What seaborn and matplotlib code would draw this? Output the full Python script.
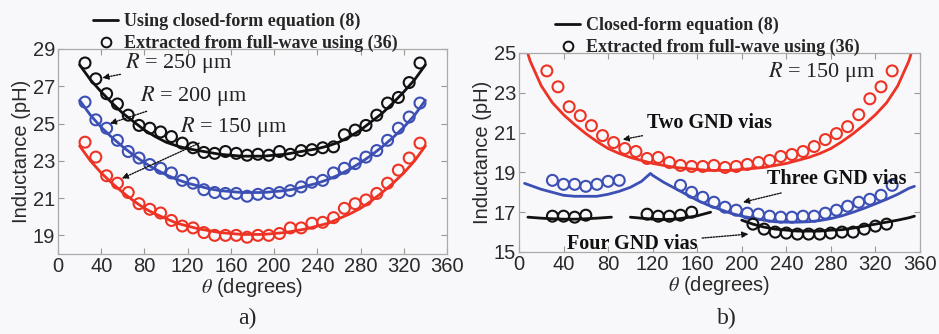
import numpy as np
import pandas as pd
import matplotlib
matplotlib.use("Agg")
import matplotlib.pyplot as plt
from matplotlib.lines import Line2D
import seaborn as sns

# ---- data: panel a) (three via radii) ----
theta_a_line = [20, 30, 40, 50, 60, 70, 80, 90, 100, 110, 120, 130, 140, 150, 160, 170, 180,
                190, 200, 210, 220, 230, 240, 250, 260, 270, 280, 290, 300, 310, 320, 330, 340]
theta_a_pts = [25, 35, 45, 55, 65, 75, 85, 95, 105, 115, 125, 135, 145, 155, 165, 175,
               185, 195, 205, 215, 225, 235, 245, 255, 265, 275, 285, 295, 305, 315, 325, 335]

a_line_250 = [28.15, 27.35, 26.7, 26.1, 25.55, 25.1, 24.65, 24.3, 24.0, 23.8, 23.65, 23.55, 23.45,
              23.35, 23.3, 23.25, 23.25, 23.25, 23.3, 23.35, 23.45, 23.55, 23.65, 23.8, 24.0,
              24.3, 24.65, 25.1, 25.55, 26.1, 26.7, 27.35, 28.15]
a_line_200 = [26.25, 25.45, 24.8, 24.25, 23.75, 23.3, 22.9, 22.55, 22.25, 22.0, 21.8, 21.65, 21.5,
              21.4, 21.35, 21.3, 21.3, 21.3, 21.35, 21.4, 21.5, 21.65, 21.8, 22.0, 22.25,
              22.55, 22.9, 23.3, 23.75, 24.25, 24.8, 25.45, 26.25]
a_line_150 = [23.8, 23.0, 22.35, 21.8, 21.3, 20.85, 20.45, 20.15, 19.9, 19.65, 19.5, 19.35, 19.25,
              19.15, 19.1, 19.05, 19.05, 19.05, 19.1, 19.15, 19.25, 19.35, 19.5, 19.65, 19.9,
              20.15, 20.45, 20.85, 21.3, 21.8, 22.35, 23.0, 23.8]

a_pts_250 = [28.25, 27.4, 26.6, 26.05, 25.45, 24.9, 24.75, 24.55, 24.3, 23.95, 23.7, 23.45, 23.4,
             23.5, 23.4, 23.3, 23.35, 23.3, 23.5, 23.35, 23.55, 23.6, 23.7, 23.75, 24.4, 24.65,
             24.9, 25.45, 26.1, 26.4, 27.2, 28.25]
a_pts_200 = [26.15, 25.2, 24.75, 24.1, 23.5, 23.15, 22.8, 22.6, 22.35, 21.95, 21.8, 21.45, 21.3,
             21.25, 21.25, 21.1, 21.2, 21.25, 21.3, 21.4, 21.6, 21.85, 21.95, 22.35, 22.6, 22.85,
             23.2, 23.55, 24.1, 24.75, 25.35, 26.1]
a_pts_150 = [24.0, 23.2, 22.2, 21.8, 21.3, 20.7, 20.4, 20.2, 19.8, 19.5, 19.4, 19.15, 19.0, 19.0,
             19.0, 18.9, 19.0, 19.0, 19.1, 19.4, 19.4, 19.65, 19.7, 19.95, 20.45, 20.7, 20.9,
             21.25, 21.8, 22.5, 23.15, 23.95]

# ---- data: panel b) (number of GND vias, R = 150 um) ----
theta_b_two_line = [5, 10, 20, 30, 40, 50, 60, 70, 80, 90, 100, 110, 120, 130, 140, 150, 160, 170,
                    180, 190, 200, 210, 220, 230, 240, 250, 260, 270, 280, 290, 300, 310, 320,
                    330, 340, 350, 355]
b_two_line = [25.5, 24.6, 23.35, 22.5, 21.9, 21.4, 20.95, 20.55, 20.2, 19.95, 19.75, 19.6, 19.45,
              19.35, 19.25, 19.2, 19.15, 19.1, 19.1, 19.1, 19.15, 19.2, 19.25, 19.35, 19.45,
              19.6, 19.75, 19.95, 20.2, 20.55, 20.95, 21.4, 21.9, 22.5, 23.35, 24.6, 25.5]
b_two_pts = [24.1, 23.3, 22.3, 21.85, 21.35, 20.85, 20.5, 20.2, 20.05, 19.7, 19.75, 19.5, 19.35,
             19.3, 19.3, 19.35, 19.25, 19.3, 19.4, 19.5, 19.6, 19.8, 19.9, 20.05, 20.3, 20.65,
             20.95, 21.3, 21.9, 22.7, 23.3, 24.1]

theta_b_three_line = [5, 10, 20, 30, 40, 50, 60, 70, 80, 90, 100, 110, 118, 120, 130, 140, 150,
                      160, 170, 180, 190, 200, 210, 220, 230, 240, 250, 260, 270, 280, 290, 300,
                      310, 320, 330, 340, 350, 355]
b_three_line = [18.45, 18.35, 18.15, 18.0, 17.85, 17.8, 17.8, 17.8, 17.9, 18.05, 18.25, 18.55,
                18.95, 18.85, 18.5, 18.2, 17.9, 17.6, 17.35, 17.15, 16.95, 16.8, 16.7, 16.6,
                16.52, 16.5, 16.5, 16.52, 16.58, 16.68, 16.82, 17.0, 17.2, 17.42, 17.65, 17.9,
                18.2, 18.3]
theta_b_three_pts = [30, 40, 50, 60, 70, 80, 90,
                     145, 155, 165, 175, 185, 195, 205, 215, 225, 235, 245, 255, 265, 275, 285,
                     295, 305, 315, 325, 335]
b_three_pts = [18.6, 18.4, 18.4, 18.3, 18.4, 18.55, 18.6,
               18.35, 18.0, 17.75, 17.5, 17.25, 17.1, 16.95, 16.9, 16.8, 16.75, 16.75, 16.8,
               16.8, 16.95, 17.1, 17.3, 17.5, 17.65, 17.85, 18.35]

# four vias: closed form exists in three separate angular ranges
theta_b_four_seg1 = [8, 20, 30, 40, 50, 60, 70, 83]
b_four_seg1 = [16.75, 16.7, 16.67, 16.65, 16.65, 16.67, 16.7, 16.75]
theta_b_four_seg2 = [100, 110, 120, 130, 140, 150, 160, 172]
b_four_seg2 = [16.75, 16.7, 16.65, 16.63, 16.65, 16.72, 16.82, 17.0]
theta_b_four_seg3 = [200, 210, 220, 230, 240, 250, 260, 270, 280, 290, 300, 310, 320, 330, 340,
                     350, 355]
b_four_seg3 = [16.6, 16.4, 16.25, 16.15, 16.1, 16.05, 16.05, 16.05, 16.1, 16.12, 16.2, 16.3,
               16.4, 16.5, 16.6, 16.72, 16.8]
theta_b_four_pts = [30, 40, 50, 60, 115, 125, 135, 145, 155,
                    210, 220, 230, 240, 250, 260, 270, 280, 290, 300, 310, 320, 330]
b_four_pts = [16.8, 16.8, 16.75, 16.85, 16.9, 16.8, 16.8, 16.85, 17.0,
              16.4, 16.15, 16.0, 15.95, 15.9, 15.9, 15.9, 15.95, 16.0, 16.0, 16.15, 16.3, 16.4]

BLACK = "#111111"
BLUE = "#3c4fb4"
RED = "#ee3224"
BG = "#f8f8fa"

sns.set_style("ticks")
plt.rcParams["font.family"] = ["Liberation Sans", "DejaVu Sans"]
plt.rcParams["mathtext.fontset"] = "stix"

fig = plt.figure(figsize=(9.39, 3.34), dpi=100, facecolor=BG)
ax_a = fig.add_axes([58 / 939, 1 - 254 / 334, 389 / 939, 205 / 334])
ax_b = fig.add_axes([519 / 939, 1 - 252 / 334, 401 / 939, 199 / 334])


def draw_line(ax, x, y, c):
    sns.lineplot(x=x, y=y, ax=ax, color=c, linewidth=2.0, sort=False, estimator=None)


def draw_pts(ax, x, y, c):
    sns.scatterplot(x=x, y=y, ax=ax, marker="o", s=62, facecolor="none",
                    edgecolor=c, linewidth=1.5, zorder=3)


# ---- panel a ----
for yl, yp, c in [(a_line_250, a_pts_250, BLACK), (a_line_200, a_pts_200, BLUE),
                  (a_line_150, a_pts_150, RED)]:
    draw_line(ax_a, theta_a_line, yl, c)
    draw_pts(ax_a, theta_a_pts, yp, c)

# ---- panel b ----
draw_line(ax_b, theta_b_two_line, b_two_line, RED)
draw_pts(ax_b, theta_a_pts, b_two_pts, RED)
draw_line(ax_b, theta_b_three_line, b_three_line, BLUE)
draw_pts(ax_b, theta_b_three_pts, b_three_pts, BLUE)
for xs, ys in [(theta_b_four_seg1, b_four_seg1), (theta_b_four_seg2, b_four_seg2),
               (theta_b_four_seg3, b_four_seg3)]:
    draw_line(ax_b, xs, ys, BLACK)
draw_pts(ax_b, theta_b_four_pts, b_four_pts, BLACK)

# ---- axes styling ----
for ax, ylim, yt in [(ax_a, (18, 29), [19, 21, 23, 25, 27, 29]),
                     (ax_b, (15, 25), [15, 17, 19, 21, 23, 25])]:
    ax.set_facecolor(BG)
    ax.set_xlim(0, 360)
    ax.set_ylim(*ylim)
    ax.set_xticks(range(0, 361, 40))
    ax.set_yticks(yt)
    ax.tick_params(direction="in", top=True, right=True, length=4, width=0.8,
                   color="#999999", labelsize=14.5, labelcolor="#2a2a2a", pad=2)
    for s in ax.spines.values():
        s.set_color("#aaaaaa")
        s.set_linewidth(0.9)
    ax.set_xlabel(r"$\theta$ (degrees)", fontsize=14.5, color="#2a2a2a", labelpad=0)
    ax.set_ylabel("Inductance (pH)", fontsize=14.5, color="#2a2a2a", labelpad=1)

# ---- legends ----
leg_font = {"family": "Liberation Serif", "weight": "bold", "size": 13}
for ax, lab in [(ax_a, "Using closed-form equation (8)"), (ax_b, "Closed-form equation (8)")]:
    handles = [Line2D([], [], color=BLACK, lw=2),
               Line2D([], [], color=BLACK, lw=0, marker="o", markersize=7,
                      markerfacecolor="none", markeredgewidth=1.4)]
    ax.legend(handles, [lab, "Extracted from full-wave using (36)"], loc="lower left",
              bbox_to_anchor=(0.09, 0.985), frameon=False, prop=leg_font, borderpad=0,
              handlelength=1.4, handletextpad=0.3, labelspacing=0.25, borderaxespad=0)

# ---- annotations ----
arrow = dict(arrowstyle="-|>", linestyle=(0, (1, 1)), color=BLACK, lw=1.0,
             mutation_scale=9, shrinkA=1, shrinkB=0)
rfont = dict(family="Liberation Serif", fontsize=16, color="#222222")
ax_a.annotate(r"$R$ = 250 μm", xy=(41, 27.45), xytext=(62, 28.25), va="center",
              arrowprops=arrow, **rfont)
ax_a.annotate(r"$R$ = 200 μm", xy=(48, 25.0), xytext=(76, 26.5), va="center",
              arrowprops=arrow, **rfont)
ax_a.annotate(r"$R$ = 150 μm", xy=(59, 22.05), xytext=(113, 24.8), va="center",
              arrowprops=arrow, **rfont)
ax_b.text(320, 24.05, r"$R$ = 150 μm", ha="right", va="center", **rfont)

bfont = dict(family="Liberation Serif", fontweight="bold", fontsize=14.5, color=BLACK)
ax_b.annotate("Two GND vias", xy=(93, 20.65), xytext=(115, 21.5), va="center",
              arrowprops=arrow, **bfont)
ax_b.annotate("Three GND vias", xy=(201, 17.5), xytext=(223, 18.65), va="center",
              arrowprops=arrow, **bfont)
ax_b.annotate("Four GND vias", xy=(206, 15.9), xytext=(43, 15.4), va="center",
              arrowprops=arrow, **bfont)

fig.text(0.263, 0.048, "a)", ha="center", va="center", family="Liberation Serif", fontsize=17)
fig.text(0.774, 0.048, "b)", ha="center", va="center", family="Liberation Serif", fontsize=17)

fig.savefig("out.png", dpi=100, facecolor=BG)
